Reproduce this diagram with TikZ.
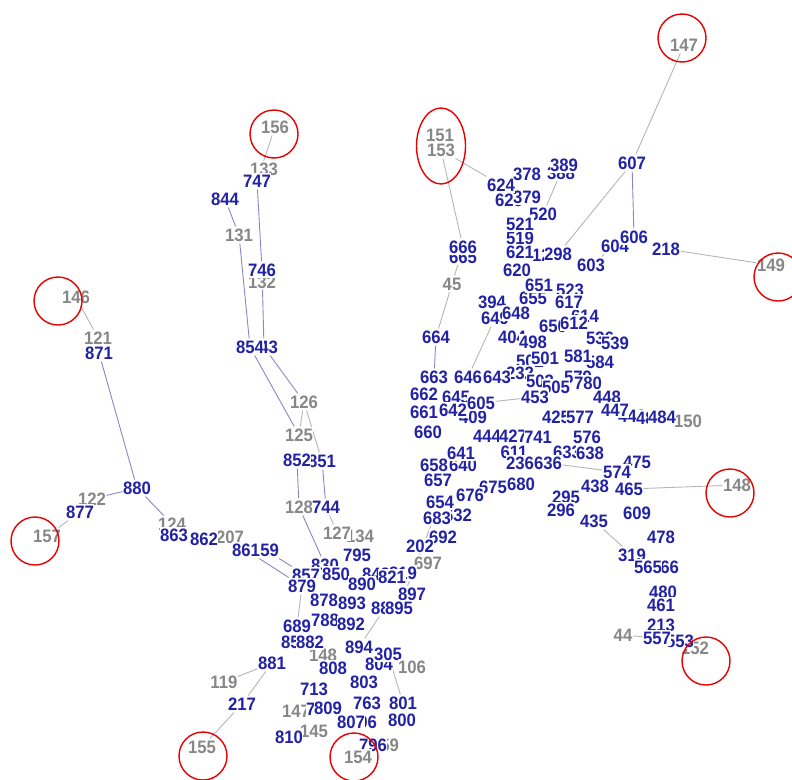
\documentclass[tikz,border=0pt]{standalone}
\usepackage{fontspec}
\setmainfont{Liberation Sans}[FakeStretch=0.93]
\usetikzlibrary{backgrounds,shapes.geometric}
\definecolor{lblue}{RGB}{34,34,165}
\definecolor{lgray}{RGB}{135,135,135}
\definecolor{ringred}{RGB}{232,0,0}
\definecolor{edgeg}{RGB}{180,180,188}
\definecolor{edgeb}{RGB}{135,135,198}
\tikzset{
  lab/.style={fill=white, inner xsep=0.4pt, inner ysep=2pt,
              font=\fontsize{18}{18}\selectfont\bfseries},
  bl/.style={lab, text=lblue},
  gr/.style={lab, text=lgray},
  ring/.style={draw=ringred, line width=1.4pt, circle, minimum size=48pt, inner sep=0pt},
  oval/.style={draw=ringred, line width=1.4pt, ellipse, minimum width=49pt, minimum height=76pt, inner sep=0pt},
  eg/.style={draw=edgeg, line width=0.9pt},
  eb/.style={draw=edgeb, line width=0.9pt},
}
\begin{document}
\begin{tikzpicture}[x=1pt,y=-1pt]
\useasboundingbox (0,0) rectangle (792,779);

% ---- labels partly covered by later ones ----
\node[gr] (g133) at (264,169) {133};
\node[gr] (g132) at (262,282) {132};
\node[gr] (g121) at (98,338) {121};
\node[gr] (g122) at (92,499) {122};
\node[gr] (g124) at (172,524) {124};
\node[gr] (g207) at (230,537) {207};
\node[gr] (g128) at (299,507) {128};
\node[gr] (g134) at (360,536) {134};
\node[gr] (g151) at (440,135) {151};
\node[gr] (g148s) at (323,655) {148};
\node[gr] (g159) at (385,745) {159};
\node[gr] (g147s) at (296,711) {147};
\node[gr] (g145) at (314,731) {145};
\node[gr] (g697) at (428,563) {697};
\node[gr] (g152) at (695,648) {152};
\node[gr] (g150) at (688,421) {150};

\node[bl] (b843) at (264,347) {843};
\node[bl] (b851) at (322,461) {851};
\node[bl] (b830) at (325,565) {830};
\node[bl] (b857) at (306,575) {857};
\node[bl] (b848) at (376,574) {848};
\node[bl] (b819) at (403,573) {819};
\node[bl] (b889) at (385,608) {889};
\node[bl] (b858) at (295,642) {858};
\node[bl] (b804) at (379,664) {804};
\node[bl] (b780) at (320,709) {780};
\node[bl] (b806) at (363,722) {806};
\node[bl] (b859) at (265,550) {859};
\node[bl] (b388) at (561,173) {388};
\node[bl] (b623) at (509,200) {623};
\node[bl] (b379) at (527,197) {379};
\node[bl] (b520) at (543,214) {520};
\node[bl] (b519) at (520,238) {519};
\node[bl] (b129) at (546,255) {129};
\node[bl] (b665) at (463,257) {665};
\node[bl] (b604) at (615,246) {604};
\node[bl] (b523) at (570,290) {523};
\node[bl] (b655) at (533,298) {655};
\node[bl] (b394) at (492,302) {394};
\node[bl] (b649) at (495,318) {649};
\node[bl] (b614) at (585,316) {614};
\node[bl] (b650) at (553,326) {650};
\node[bl] (b404) at (512,337) {404};
\node[bl] (b536) at (600,338) {536};
\node[bl] (b502) at (530,361) {502};
\node[bl] (b584) at (600,362) {584};
\node[bl] (b232) at (520,373) {232};
\node[bl] (b503) at (540,381) {503};
\node[bl] (b579) at (578,377) {579};
\node[bl] (b409) at (473,417) {409};
\node[bl] (b640) at (463,465) {640};
\node[bl] (b632) at (458,515) {632};
\node[bl] (b633) at (567,452) {633};
\node[bl] (b448b) at (632,416) {448};
\node[bl] (b486) at (650,418) {486};
\node[bl] (b295) at (566,497) {295};
\node[bl] (b675) at (493,487) {675};
\node[bl] (b553) at (680,641) {553};
\node[bl] (b611) at (514,452) {611};
\node[bl] (b566) at (665,567) {566};

% ---- labels on top ----
\node[gr] (n156) at (275,127) {156};
\node[bl] (n747) at (257,181) {747};
\node[bl] (n844) at (225,199) {844};
\node[gr] (n131) at (239,235) {131};
\node[bl] (n746) at (262,270) {746};
\node[bl] (n854) at (250,347) {854};
\node[gr] (n126) at (304,402) {126};
\node[gr] (n125) at (299,435) {125};
\node[bl] (n852) at (297,460) {852};
\node[bl] (n744) at (326,507) {744};
\node[gr] (n127) at (337,533) {127};
\node[bl] (n795) at (357,555) {795};
\node[gr] (n146) at (76,297) {146};
\node[bl] (n871) at (99,353) {871};
\node[bl] (n880) at (137,488) {880};
\node[bl] (n877) at (80,512) {877};
\node[gr] (n157) at (47,536) {157};
\node[bl] (n863) at (174,535) {863};
\node[bl] (n862) at (204,539) {862};
\node[bl] (n861) at (246,550) {861};
\node[bl] (n850) at (336,574) {850};
\node[bl] (n879) at (302,586) {879};
\node[bl] (n890) at (362,584) {890};
\node[bl] (n821) at (392,577) {821};
\node[bl] (n897) at (412,594) {897};
\node[bl] (n878) at (324,600) {878};
\node[bl] (n893) at (352,603) {893};
\node[bl] (n895) at (399,608) {895};
\node[bl] (n689) at (297,626) {689};
\node[bl] (n788) at (325,620) {788};
\node[bl] (n892) at (351,624) {892};
\node[bl] (n882) at (310,642) {882};
\node[bl] (n894) at (359,647) {894};
\node[bl] (n305) at (388,654) {305};
\node[gr] (n106) at (412,667) {106};
\node[bl] (n808) at (333,668) {808};
\node[bl] (n881) at (272,663) {881};
\node[gr] (n119) at (224,682) {119};
\node[bl] (n217) at (242,704) {217};
\node[bl] (n713) at (314,689) {713};
\node[bl] (n803) at (364,682) {803};
\node[bl] (n809) at (328,708) {809};
\node[bl] (n763) at (367,703) {763};
\node[bl] (n801) at (403,703) {801};
\node[bl] (n800) at (402,720) {800};
\node[bl] (n807) at (351,722) {807};
\node[bl] (n810) at (289,737) {810};
\node[bl] (n796) at (373,745) {796};
\node[gr] (n154) at (358,757) {154};
\node[gr] (n155) at (202,747) {155};

\node[gr] (n153) at (441,150) {153};
\node[bl] (n624) at (501,185) {624};
\node[bl] (n378) at (527,174) {378};
\node[bl] (n389) at (564,165) {389};
\node[bl] (n521) at (520,224) {521};
\node[bl] (n666) at (463,247) {666};
\node[gr] (n45) at (452,284) {45};
\node[bl] (n621) at (520,252) {621};
\node[bl] (n298) at (558,254) {298};
\node[bl] (n620) at (517,270) {620};
\node[bl] (n603) at (591,265) {603};
\node[bl] (n651) at (539,285) {651};
\node[bl] (n617) at (569,302) {617};
\node[bl] (n648) at (516,313) {648};
\node[bl] (n612) at (574,323) {612};
\node[bl] (n664) at (436,337) {664};
\node[bl] (n498) at (533,342) {498};
\node[bl] (n539) at (615,343) {539};
\node[bl] (n501) at (545,358) {501};
\node[bl] (n581) at (578,356) {581};
\node[bl] (n663) at (434,377) {663};
\node[bl] (n646) at (468,377) {646};
\node[bl] (n643) at (497,377) {643};
\node[bl] (n505) at (556,387) {505};
\node[bl] (n780) at (588,383) {780};
\node[bl] (n662) at (424,394) {662};
\node[bl] (n645) at (456,397) {645};
\node[bl] (n605) at (481,403) {605};
\node[bl] (n453) at (535,397) {453};
\node[bl] (n448) at (607,397) {448};
\node[bl] (n661) at (424,412) {661};
\node[bl] (n642) at (453,410) {642};
\node[bl] (n425) at (556,417) {425};
\node[bl] (n577) at (580,417) {577};
\node[bl] (n447) at (615,410) {447};
\node[bl] (n484) at (662,417) {484};
\node[bl] (n660) at (428,432) {660};
\node[bl] (n444) at (487,436) {444};
\node[bl] (n427) at (513,436) {427};
\node[bl] (n741) at (538,437) {741};
\node[bl] (n576) at (587,437) {576};
\node[bl] (n641) at (461,453) {641};
\node[bl] (n638) at (590,453) {638};
\node[bl] (n475) at (637,462) {475};
\node[bl] (n658) at (434,465) {658};
\node[bl] (n236) at (520,463) {236};
\node[bl] (n636) at (548,463) {636};
\node[bl] (n574) at (617,472) {574};
\node[bl] (n657) at (438,480) {657};
\node[bl] (n676) at (470,495) {676};
\node[bl] (n680) at (521,484) {680};
\node[bl] (n438) at (595,486) {438};
\node[bl] (n465) at (629,489) {465};
\node[gr] (n148) at (737,485) {148};
\node[bl] (n654) at (440,502) {654};
\node[bl] (n683) at (437,518) {683};
\node[bl] (n296) at (561,510) {296};
\node[bl] (n435) at (594,521) {435};
\node[bl] (n609) at (637,513) {609};
\node[bl] (n692) at (443,537) {692};
\node[bl] (n202) at (420,546) {202};
\node[bl] (n478) at (661,537) {478};
\node[bl] (n319) at (632,555) {319};
\node[bl] (n565) at (648,567) {565};
\node[bl] (n480) at (663,592) {480};
\node[bl] (n461) at (661,605) {461};
\node[bl] (n213) at (661,625) {213};
\node[gr] (n44) at (623,635) {44};
\node[bl] (n557) at (657,638) {557};

\node[bl] (n607) at (632,163) {607};
\node[gr] (n147) at (684,45) {147};
\node[bl] (n606) at (634,237) {606};
\node[bl] (n218) at (666,249) {218};
\node[gr] (n149) at (771,265) {149};

% ---- connectors ----
\begin{scope}[on background layer]
\draw[eg] (n156) -- (n747);
\draw[eb] (n747) -- (n746);
\draw[eb] (n746) -- (b843);
\draw[eb] (n844) -- (n131);
\draw[eb] (n131) -- (n854);
\draw[eb] (n854) -- (n125);
\draw[eb] (b843) -- (n126);
\draw[eg] (n126) -- (n125);
\draw[eg] (n126) -- (b851);
\draw[eb] (n852) -- (g128);
\draw[eb] (g128) -- (b830);
\draw[eb] (b851) -- (n744);
\draw[eg] (n744) -- (n127);
\draw[eg] (n146) -- (g121);
\draw[eb] (n871) -- (n880);
\draw[eb] (n880) -- (g122);
\draw[eg] (n877) -- (n157);
\draw[eb] (n880) -- (g124);
\draw[eb] (b859) -- (b857);
\draw[eb] (n861) -- (n879);
\draw[eg] (n879) -- (n689);
\draw[eg] (n881) -- (n119);
\draw[eg] (n881) -- (n217);
\draw[eg] (n217) -- (n155);
\draw[eg] (n305) -- (n801);
\draw[eg] (b889) -- (n894);
\draw[eg] (n895) -- (n654);
\draw[eg] (n153) -- (n666);
\draw[eg] (n153) -- (n624);
\draw[eg] (n666) -- (n45);
\draw[eg] (n45) -- (n664);
\draw[eb] (n664) -- (n663);
\draw[eg] (n646) -- (b649);
\draw[eg] (n605) -- (n453);
\draw[eg] (n389) -- (b520);
\draw[eg] (n298) -- (n607);
\draw[eg] (n607) -- (n147);
\draw[eb] (n607) -- (n606);
\draw[eg] (n603) -- (b604);
\draw[eg] (n218) -- (n149);
\draw[eg] (n465) -- (n148);
\draw[eg] (n435) -- (n319);
\draw[eg] (n636) -- (n574);
\draw[eg] (n44) -- (n557);
\draw[eg] (n484) -- (g150);
\end{scope}

% ---- highlight rings ----
\node[ring] (r156) at (274,134) {};
\node[ring] (r146) at (58,301) {};
\node[ring] (r157) at (35,541) {};
\node[ring] (r155) at (203,756) {};
\node[ring] (r154) at (354,757) {};
\node[oval] (r151) at (441,146) {};
\node[ring] (r147) at (682,38) {};
\node[ring] (r149) at (778,277) {};
\node[ring] (r148) at (730,493) {};
\node[ring] (r152) at (706,661) {};
\end{tikzpicture}
\end{document}
